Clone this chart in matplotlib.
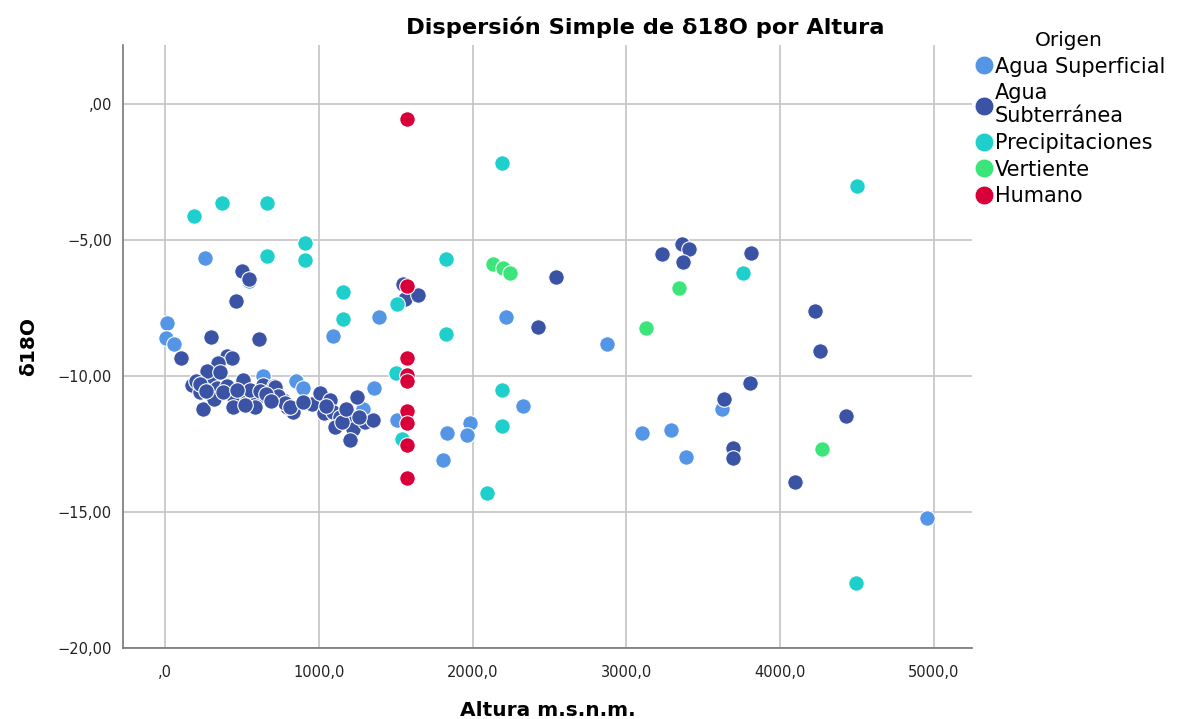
import matplotlib.pyplot as plt
from matplotlib.lines import Line2D

# category names and colours
categorias = ['Agua Superficial', 'Agua\nSubterránea', 'Precipitaciones', 'Vertiente', 'Humano']
colores = ['#5495E6', '#3A53A4', '#1ECFCB', '#3CE57A', '#D9003A']

# Agua Superficial
sup_x = [11, 6, 61, 262, 548, 635, 852, 895, 1094, 1393, 1359, 1289, 1506, 1832, 1983,
         1966, 1805, 2217, 2330, 2877, 3099, 3290, 3387, 3624, 4952]
sup_y = [-8.06, -8.6, -8.82, -5.65, -6.5, -10.0, -10.17, -10.45, -8.53, -7.84, -10.45,
         -11.2, -11.6, -12.1, -11.72, -12.17, -13.09, -7.83, -11.09, -8.83, -12.08,
         -11.99, -12.97, -11.23, -15.21]

# Agua Subterránea
sub_x = [102, 297, 613, 405, 436, 347, 501, 548, 462, 1550, 1560, 1647, 2540, 2427,
         3234, 3359, 3409, 3370, 3810, 4226, 4259, 3804, 3635, 3695, 3695, 4426, 4098,
         173, 228, 249, 297, 275, 358, 336, 405, 451, 440, 505, 531, 596, 585, 639, 726,
         709, 769, 834, 791, 954, 1008, 1073, 1034, 1094, 1138, 1105, 1203, 1246, 1224,
         1203, 1300, 1350, 319, 520, 553, 715, 733, 780, 813, 200, 230, 265, 380, 470,
         620, 660, 690, 900, 1150, 1180, 1260, 1050]
sub_y = [-9.33, -8.55, -8.65, -9.25, -9.35, -9.53, -6.13, -6.42, -7.25, -6.6, -7.15,
         -7.02, -6.35, -8.19, -5.53, -5.15, -5.34, -5.82, -5.47, -7.6, -9.08, -10.24,
         -10.86, -12.66, -13.03, -11.46, -13.91,
         -10.33, -10.6, -11.2, -10.0, -9.8, -9.84, -10.45, -10.37, -10.82, -11.15, -10.15,
         -10.88, -10.78, -11.13, -10.33, -10.7, -10.37, -10.88, -11.31, -11.13, -11.03,
         -10.64, -10.88, -11.37, -11.31, -11.49, -11.86, -11.47, -10.78, -11.93, -12.35,
         -11.68, -11.62, -10.86, -11.07, -10.5, -10.39, -10.74, -11.0, -11.13, -10.2,
         -10.3, -10.55, -10.6, -10.5, -10.55, -10.65, -10.9, -10.95, -11.7, -11.2, -11.5,
         -11.1]

# Precipitaciones
pre_x = [190, 371, 665, 910, 910, 665, 1155, 1155, 1506, 1502, 1539, 1827, 1827, 2189,
         2193, 2193, 2096, 3760, 4499, 4493]
pre_y = [-4.1, -3.63, -3.65, -5.12, -5.74, -5.6, -6.9, -7.92, -7.35, -9.88, -12.32,
         -5.71, -8.46, -2.16, -10.51, -11.82, -14.29, -6.2, -3.0, -17.62]

# Vertiente
ver_x = [2135, 2200, 2243, 3344, 3127, 4270]
ver_y = [-5.88, -6.04, -6.2, -6.75, -8.22, -12.7]

# Humano
hum_x = [1571, 1571, 1571, 1571, 1571, 1571, 1571, 1571, 1571]
hum_y = [-0.56, -6.69, -9.35, -9.96, -10.17, -11.27, -11.74, -12.54, -13.76]

xticks = [0, 1000, 2000, 3000, 4000, 5000]
xlabels = [',0', '1000,0', '2000,0', '3000,0', '4000,0', '5000,0']
yticks = [0, -5, -10, -15, -20]
ylabels = [',00', '\u22125,00', '\u221210,00', '\u221215,00', '\u221220,00']

plt.rcParams['font.family'] = ['DejaVu Sans']

fig = plt.figure(figsize=(11.77, 7.19), dpi=100)
ax = fig.add_axes([0.1045, 0.0987, 0.7213, 0.8387])

series = [(sup_x, sup_y), (sub_x, sub_y), (pre_x, pre_y), (ver_x, ver_y), (hum_x, hum_y)]
for (xs, ys), c in zip(series, colores):
    ax.scatter(xs, ys, s=125, color=c, edgecolors='white', linewidths=0.8, zorder=3)

ax.set_xlim(-273, 5247)
ax.set_ylim(-20, 2.17)
ax.set_xticks(xticks)
ax.set_xticklabels(xlabels, fontsize=10.5, color='#222222')
ax.set_yticks(yticks)
ax.set_yticklabels(ylabels, fontsize=10.5, color='#222222')
ax.grid(True, color='#c8c8c8', linewidth=1.3, zorder=0)
ax.set_axisbelow(True)
for s in ['top', 'right']:
    ax.spines[s].set_visible(False)
for s in ['left', 'bottom']:
    ax.spines[s].set_color('#777777')
    ax.spines[s].set_linewidth(1.2)
ax.tick_params(axis='both', length=0, pad=12)
ax.tick_params(axis='y', pad=8)

ax.set_xlabel('Altura m.s.n.m.', fontsize=14.5, fontweight='bold', labelpad=15)
ax.set_ylabel('δ18O', fontsize=14.5, fontweight='bold', labelpad=14)
fig.text(0.548, 0.962, 'Dispersión Simple de δ18O por Altura', fontsize=16.2,
         fontweight='bold', ha='center', va='center')

handles = [Line2D([], [], marker='o', linestyle='none', markersize=13.5,
                  markerfacecolor=c, markeredgecolor='white', markeredgewidth=0.5)
           for c in colores]
leg = fig.legend(handles, categorias, title='Origen', loc='upper left',
                 bbox_to_anchor=(0.826, 0.957), frameon=False, fontsize=15.0,
                 title_fontsize=14.5, handletextpad=0.0, labelspacing=0.32,
                 handlelength=1.1, borderaxespad=0, borderpad=0)

plt.savefig('out.png', dpi=100)
